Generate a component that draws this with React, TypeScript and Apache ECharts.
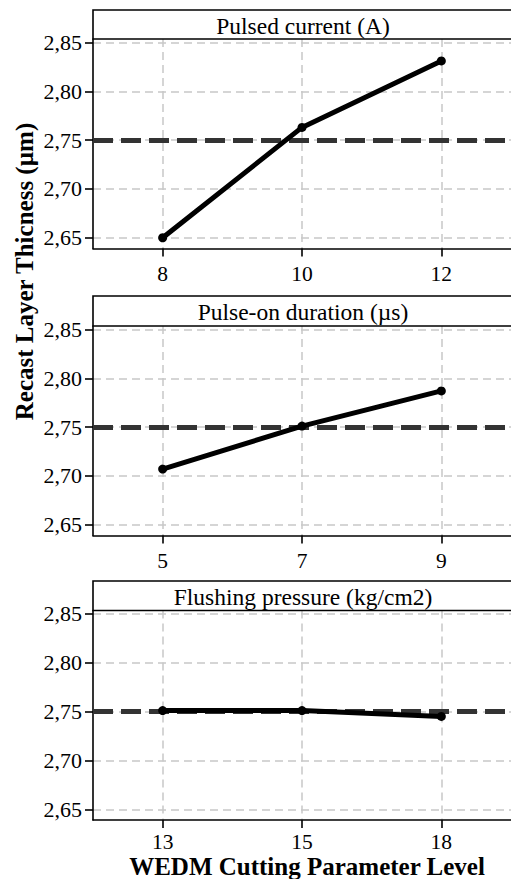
import React, { useEffect, useRef } from 'react';
import * as echarts from 'echarts';

// Parameter levels and mean recast layer thickness for each factor
const panelTitles = ['Pulsed current (A)', 'Pulse-on duration (µs)', 'Flushing pressure (kg/cm2)'];
const currentLevels = ['8', '10', '12'];
const currentThickness = [2.65, 2.763, 2.831];
const durationLevels = ['5', '7', '9'];
const durationThickness = [2.707, 2.751, 2.787];
const pressureLevels = ['13', '15', '18'];
const pressureThickness = [2.751, 2.751, 2.745];
const yTicks = [2.65, 2.7, 2.75, 2.8, 2.85];
const yTitle = 'Recast Layer Thicness (µm)';
const xTitle = 'WEDM Cutting Parameter Level';

const levelSets = [currentLevels, durationLevels, pressureLevels];
const valueSets = [currentThickness, durationThickness, pressureThickness];

const FONT = 'Liberation Serif';
const PLOT_LEFT = 93;
const PLOT_WIDTH = 420;
const PLOT_HEIGHT = 209.5;
const HEADER_TOPS = [10, 296, 581];
const GRID_TOPS = [39, 326, 610.5];
// the lowest panel's labels sit a little closer to make room for the axis title
const X_LABEL_MARGINS = [16.5, 16.5, 13];

const gridLine = { color: '#c8c8c8', width: 1.5, type: [8, 5] as number[] };
const blackLine = { color: '#000', width: 1.6 };

function buildOption(): echarts.EChartsOption {
  const mean = (arr: number[]) => arr.reduce((a, b) => a + b, 0) / arr.length;
  const graphic: any[] = [];
  HEADER_TOPS.forEach((top, i) => {
    graphic.push({
      type: 'rect',
      shape: { x: PLOT_LEFT, y: top, width: PLOT_WIDTH + 20, height: GRID_TOPS[i] - top },
      style: { fill: '#fff', stroke: '#000', lineWidth: 1.6 },
      z: 10,
    });
    graphic.push({
      type: 'text',
      x: PLOT_LEFT + PLOT_WIDTH / 2,
      y: (top + GRID_TOPS[i]) / 2 + 1,
      style: {
        text: panelTitles[i],
        fontFamily: FONT,
        fontSize: 23.5,
        fill: '#000',
        align: 'center',
        verticalAlign: 'middle',
      },
      z: 11,
    });
  });
  graphic.push({
    type: 'text',
    x: 24,
    y: 271.5,
    rotation: Math.PI / 2,
    style: {
      text: yTitle,
      fontFamily: FONT,
      fontSize: 25,
      fontWeight: 'bold',
      fill: '#000',
      align: 'center',
      verticalAlign: 'middle',
    },
  });
  graphic.push({
    type: 'text',
    x: 307,
    y: 866.5,
    style: {
      text: xTitle,
      fontFamily: FONT,
      fontSize: 25,
      lineHeight: 22,
      fontWeight: 'bold',
      fill: '#000',
      align: 'center',
      verticalAlign: 'middle',
    },
  });

  return {
    animation: false,
    backgroundColor: '#fff',
    textStyle: { fontFamily: FONT },
    grid: GRID_TOPS.map((top) => ({
      left: PLOT_LEFT,
      top,
      width: PLOT_WIDTH,
      height: PLOT_HEIGHT,
    })),
    xAxis: levelSets.map((levels, i) => ({
      gridIndex: i,
      type: 'value',
      min: -0.5,
      max: levels.length - 0.5,
      axisLine: { show: true, onZero: false, lineStyle: blackLine },
      axisTick: { show: true, length: 8, customValues: levels.map((_, k) => k), lineStyle: blackLine },
      axisLabel: {
        customValues: levels.map((_, k) => k),
        formatter: (v: number) => levels[Math.round(v)] ?? '',
        color: '#000',
        fontFamily: FONT,
        fontSize: 21.5,
        lineHeight: 18,
        margin: X_LABEL_MARGINS[i],
      },
      splitLine: { show: true, lineStyle: gridLine },
    })),
    yAxis: levelSets.map((_, i) => ({
      gridIndex: i,
      type: 'value',
      min: 2.639,
      max: 2.8535,
      axisLine: { show: true, onZero: false, lineStyle: blackLine },
      axisTick: { show: true, length: 8, customValues: yTicks, lineStyle: blackLine },
      axisLabel: {
        customValues: yTicks,
        formatter: (v: number) => v.toFixed(2).replace('.', ','),
        color: '#000',
        fontFamily: FONT,
        fontSize: 22,
        margin: 11,
      },
      splitLine: { show: true, lineStyle: gridLine },
    })),
    series: valueSets.map((values, i) => ({
      type: 'line',
      xAxisIndex: i,
      yAxisIndex: i,
      data: values.map((v, k) => [k, v]),
      symbol: 'circle',
      symbolSize: 9,
      itemStyle: { color: '#000' },
      lineStyle: { color: '#000', width: 5 },
      z: 4,
      markLine: {
        silent: true,
        symbol: 'none',
        z: 3,
        label: { show: false },
        lineStyle: { color: '#333', width: 5, type: [20, 8] },
        data: [{ yAxis: mean(values) }],
      },
    })),
    graphic,
  } as echarts.EChartsOption;
}

export default function App() {
  const ref = useRef<HTMLDivElement>(null);
  useEffect(() => {
    if (!ref.current) return;
    const chart = echarts.init(ref.current, undefined, { renderer: 'svg' });
    chart.setOption(buildOption());
    return () => chart.dispose();
  }, []);
  return (
    <div
      ref={ref}
      style={{ position: 'absolute', left: 0, top: 0, width: 511, height: 879 }}
    />
  );
}
